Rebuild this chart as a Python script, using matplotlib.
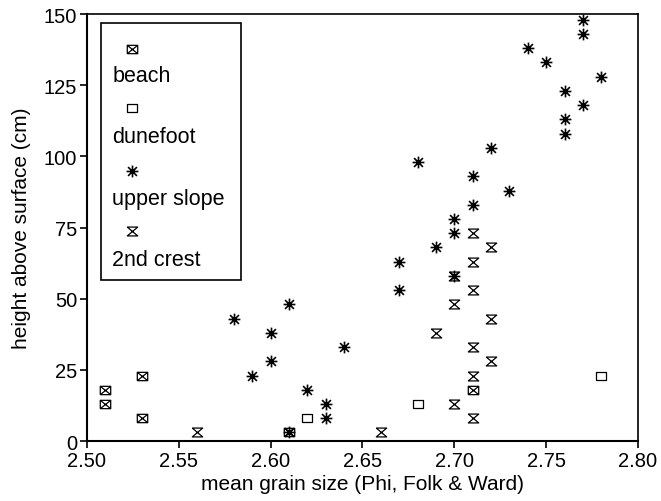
import matplotlib.pyplot as plt
from matplotlib.path import Path
from matplotlib.patches import Rectangle

plt.rcParams['font.family'] = ['Liberation Sans', 'DejaVu Sans']

# data (grain size in Phi, height in cm)
beach_x = [2.51, 2.51, 2.53, 2.53, 2.61, 2.71]
beach_y = [13, 18, 8, 23, 3, 18]

dunefoot_x = [2.62, 2.68, 2.78]
dunefoot_y = [8, 13, 23]

upper_x = [2.61, 2.63, 2.63, 2.62, 2.59, 2.60, 2.64, 2.60, 2.58, 2.61,
           2.67, 2.70, 2.67, 2.69, 2.70, 2.70, 2.71, 2.73, 2.71, 2.68,
           2.72, 2.76, 2.76, 2.77, 2.76, 2.78, 2.75, 2.74, 2.77, 2.77]
upper_y = [3, 8, 13, 18, 23, 28, 33, 38, 43, 48,
           53, 58, 63, 68, 73, 78, 83, 88, 93, 98,
           103, 108, 113, 118, 123, 128, 133, 138, 143, 148]

crest_x = [2.56, 2.66, 2.71, 2.70, 2.71, 2.72, 2.71, 2.69, 2.72, 2.70,
           2.71, 2.70, 2.71, 2.72, 2.71]
crest_y = [3, 3, 8, 13, 23, 28, 33, 38, 43, 48, 53, 58, 63, 68, 73]

labels = ['beach', 'dunefoot', 'upper slope', '2nd crest']
x_ticks = [2.50, 2.55, 2.60, 2.65, 2.70, 2.75, 2.80]
y_ticks = [0, 25, 50, 75, 100, 125, 150]

# marker shapes
MV, LT = Path.MOVETO, Path.LINETO
box_x = Path([(-1, -0.8), (1, -0.8), (1, 0.8), (-1, 0.8), (-1, -0.8),
              (-1, -0.8), (1, 0.8), (-1, 0.8), (1, -0.8)],
             [MV, LT, LT, LT, LT, MV, LT, MV, LT])
open_box = Path([(-1, -0.8), (1, -0.8), (1, 0.8), (-1, 0.8), (-1, -0.8)],
                [MV, LT, LT, LT, LT])
star = Path([(-1, 0), (1, 0), (0, -1), (0, 1), (-0.75, -0.75), (0.75, 0.75),
             (-0.75, 0.75), (0.75, -0.75)],
            [MV, LT, MV, LT, MV, LT, MV, LT])
hourglass = Path([(-1, 0.85), (1, 0.85), (-1, -0.85), (1, -0.85), (-1, 0.85)],
                 [MV, LT, LT, LT, LT])

styles = [
    dict(marker=box_x, ms=7.5, mew=0.9),
    dict(marker=open_box, ms=7.5, mew=0.9),
    dict(marker=star, ms=8.5, mew=1.2),
    dict(marker=hourglass, ms=7.5, mew=0.9),
]
series = [(beach_x, beach_y), (dunefoot_x, dunefoot_y),
          (upper_x, upper_y), (crest_x, crest_y)]

fig = plt.figure(figsize=(6.61, 5.02), dpi=100)
ax = fig.add_axes([0.1316, 0.1195, 0.8336, 0.8506])

for (xs, ys), st in zip(series, styles):
    ax.plot(xs, ys, ls='none', color='black', mec='black', mfc='none',
            clip_on=False, **st)

ax.set_xlim(2.50, 2.80)
ax.set_ylim(0, 150)
ax.set_xticks(x_ticks)
ax.set_xticklabels(['%.2f' % v for v in x_ticks])
ax.set_yticks(y_ticks)
ax.tick_params(direction='out', length=5, width=1.2, labelsize=14.5, pad=2,
               top=False, right=False)
for s in ['left', 'bottom']:
    ax.spines[s].set_linewidth(1.5)
for s in ['top', 'right']:
    ax.spines[s].set_linewidth(1.2)

ax.set_xlabel('mean grain size (Phi, Folk & Ward)', fontsize=15, labelpad=3)
ax.set_ylabel('height above surface (cm)', fontsize=15, labelpad=9)

# legend box: marker above each label
ax.add_patch(Rectangle((0.025, 0.377), 0.255, 0.602, transform=ax.transAxes,
                       fill=False, lw=1.2, ec='black', clip_on=False))
mark_y = [0.919, 0.779, 0.632, 0.492]
text_y = [0.857, 0.714, 0.569, 0.424]
for st, lab, my, ty in zip(styles, labels, mark_y, text_y):
    ax.plot([0.081], [my], transform=ax.transAxes, ls='none', color='black',
            mec='black', mfc='none', clip_on=False, **st)
    ax.text(0.046, ty, lab, transform=ax.transAxes, fontsize=15.5,
            ha='left', va='center')

fig.savefig('out.png', dpi=100)
